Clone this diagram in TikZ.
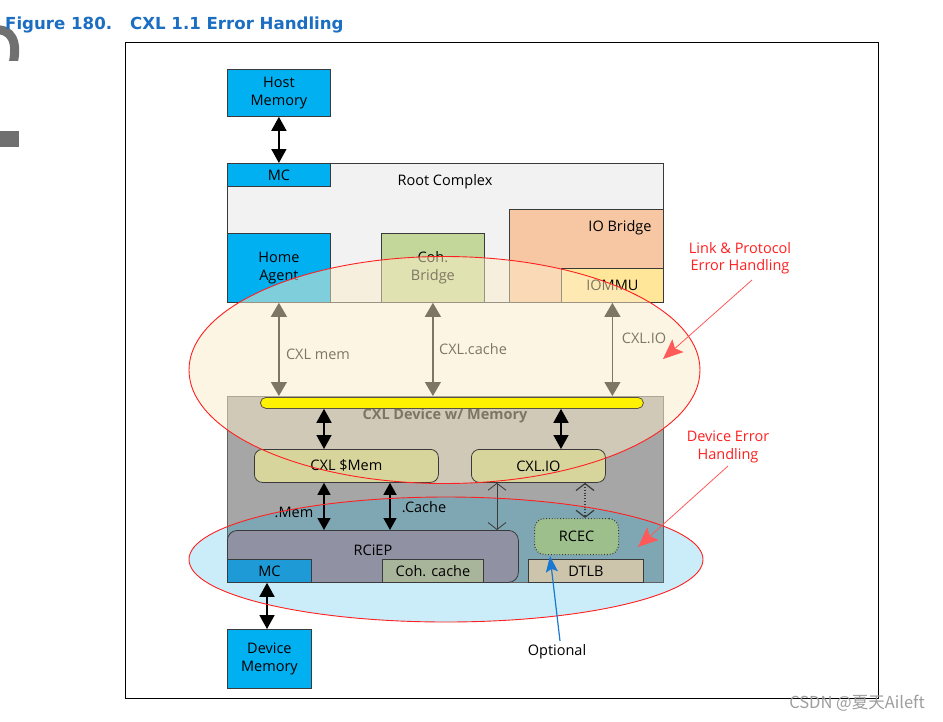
\documentclass[tikz,border=0pt]{standalone}
\usepackage{fontspec}
\setmainfont{Open Sans}
\newfontfamily\titlefont{DejaVu Sans}
\newfontfamily\cjkfont{Noto Sans CJK SC}
\usetikzlibrary{arrows.meta,calc}
\definecolor{cblue}{HTML}{00B0F0}
\definecolor{rcfill}{HTML}{F2F2F2}
\definecolor{cohfill}{HTML}{C4D79B}
\definecolor{iobfill}{HTML}{F7C6A3}
\definecolor{iommufill}{HTML}{FFE699}
\definecolor{devgray}{HTML}{A6A6A6}
\definecolor{devblue}{HTML}{7FA7B3}
\definecolor{blueell}{HTML}{CBEDF9}
\definecolor{creamell}{HTML}{FDEDC9}
\definecolor{smemfill}{HTML}{D7D59B}
\definecolor{rciepfill}{HTML}{9091A3}
\definecolor{mcdfill}{HTML}{1E9AD6}
\definecolor{ccfill}{HTML}{A9B59A}
\definecolor{dtlbfill}{HTML}{CDC5AB}
\definecolor{rcecfill}{HTML}{9DBF8C}
\definecolor{bordc}{HTML}{3A3A3A}
\definecolor{redc}{HTML}{FF2020}
\definecolor{redarrc}{HTML}{FF5A5A}
\definecolor{bluearrc}{HTML}{1A78D0}
\definecolor{titleblue}{HTML}{1B6EC2}
\definecolor{artgray}{HTML}{707070}
\newcommand\lblfont{\fontsize{14.5}{17.5}\selectfont}
\tikzset{
  box/.style={draw=bordc, line width=0.8pt, anchor=north west, inner sep=0pt, align=center, font=\lblfont},
  lbl/.style={inner sep=0pt, align=center, font=\lblfont},
  thickarrow/.style={line width=1.6pt, {Triangle[length=14pt,width=15pt]}-{Triangle[length=14pt,width=15pt]}},
  grayarrow/.style={line width=1.2pt, {Triangle[length=14pt,width=16pt]}-{Triangle[length=14pt,width=16pt]}},
  medarrow/.style={line width=1.3pt, {Triangle[length=12pt,width=13pt]}-{Triangle[length=12pt,width=13pt]}},
  openarrow/.style={line width=0.8pt, draw=bordc, {Straight Barb[length=7pt,width=18pt]}-{Straight Barb[length=7pt,width=18pt]}},
  redarrow/.style={line width=0.8pt, draw=redarrc, -{Stealth[length=20pt,width=17pt,inset=4pt]}},
  bluearrow/.style={line width=1.2pt, draw=bluearrc, -{Stealth[length=16pt,width=12pt,inset=3pt]}},
  redtext/.style={lbl, text=redc}
}
\begin{document}
\begin{tikzpicture}[x=1pt,y=-1pt]
\useasboundingbox (0,0) rectangle (943,721);
\fill[white] (0,0) rectangle (943,721);
% left artifacts
\begin{scope}
\clip (0,0) rectangle (30,60);
\draw[artgray, line width=9pt] (-6,30) .. controls (12,28) and (18,42) .. (13,64);
\end{scope}
\fill[artgray] (0,131) rectangle (19,147);
% title
\node[anchor=base west, inner sep=0pt, text=titleblue, font=\titlefont\bfseries\fontsize{16.6}{20}\selectfont] (title) at (5,29) {Figure 180.\hspace{18pt}CXL 1.1 Error Handling};
% frame
\node[draw=black, line width=1pt, anchor=north west, minimum width=753pt, minimum height=656pt, inner sep=0pt] (frame) at (125,42) {};
% blue ellipse fill and device box
\fill[blueell] (446,559.5) ellipse [x radius=257, y radius=62.5];
\node[box, fill=devgray, draw=none, minimum width=436pt, minimum height=186pt] (dev) at (227,396) {};
\begin{scope}
\clip (227,396) rectangle (663,582);
\fill[devblue] (446,559.5) ellipse [x radius=257, y radius=62.5];
\end{scope}
\node[box, draw=bordc!80, minimum width=436pt, minimum height=186pt] (devb) at (227,396) {};
\node[lbl, font=\lblfont\bfseries] (devtext) at (445,416) {CXL Device w/ Memory};
% host side
\node[box, fill=cblue, minimum width=103pt, minimum height=47pt] (hostmem) at (227,69) {Host\\Memory};
\node[box, fill=rcfill, minimum width=436pt, minimum height=139pt] (rc) at (227,163) {};
\node[lbl] (rctext) at (445,182) {Root Complex};
\node[box, fill=cblue, minimum width=103pt, minimum height=23pt] (mc1) at (227,163) {MC};
\node[box, fill=cblue, minimum width=103pt, minimum height=69pt] (ha) at (227,233) {Home\\Agent};
\node[box, fill=cohfill, minimum width=103pt, minimum height=69pt] (cb) at (381,233) {Coh.\\Bridge};
\node[box, fill=iobfill, minimum width=154pt, minimum height=93pt] (iob) at (509,209) {};
\node[lbl] (iobtext) at (620,228) {IO Bridge};
\node[box, fill=iommufill, minimum width=102pt, minimum height=34pt] (iommu) at (561,268) {IOMMU};
\draw[thickarrow] (hostmem.south) -- (mc1.north);
% protocol arrows
\draw[grayarrow] (ha.south) -- (ha.south |- dev.north);
\draw[grayarrow] (cb.south) -- (cb.south |- dev.north);
\draw[grayarrow] (iommu.south) -- (iommu.south |- dev.north);
\node[lbl] (memlbl) at (318,354) {CXL mem};
\node[lbl] (cachelbl) at (473,349) {CXL.cache};
\node[lbl] (iolbl) at (644,338) {CXL.IO};
% cream ellipse fill
\fill[creamell, fill opacity=0.5] (444.5,370) ellipse [x radius=255.5, y radius=113.5];
% device internals
\node[box, fill=yellow, draw=black!60!yellow!60!black, rounded corners=5.5pt, minimum width=383pt, minimum height=11pt] (bar) at (260,397) {};
\node[box, fill=smemfill, rounded corners=8pt, minimum width=184pt, minimum height=33pt] (smem) at (254,449) {CXL \$Mem};
\node[box, fill=smemfill, rounded corners=8pt, minimum width=134pt, minimum height=33pt] (cio) at (471,449) {CXL.IO};
\node[box, fill=rciepfill, rounded corners=10pt, minimum width=291pt, minimum height=52pt] (rciep) at (227,530) {};
\node[lbl] (rcieptext) at (373,550) {RCiEP};
\node[box, fill=mcdfill, minimum width=84pt, minimum height=23pt] (mcd) at (227,559) {MC};
\node[box, fill=ccfill, minimum width=101pt, minimum height=23pt] (cc) at (382,559) {Coh. cache};
\node[box, fill=dtlbfill, minimum width=115pt, minimum height=23pt] (dtlb) at (528,559) {DTLB};
\node[box, fill=rcecfill, dotted, line width=1.2pt, rounded corners=10pt, minimum width=84pt, minimum height=36pt] (rcec) at (534,518) {RCEC};
\node[box, fill=cblue, minimum width=84pt, minimum height=59pt] (devmem) at (227,629) {Device\\Memory};
\coordinate (xa) at (324,0);
\coordinate (xb) at (561,0);
\coordinate (xc) at (390,0);
\coordinate (xd) at (497,0);
\coordinate (xe) at (585,0);
\coordinate (xf) at (267,0);
\draw[thickarrow] (xa |- bar.south) -- (xa |- smem.north);
\draw[thickarrow] (xb |- bar.south) -- (xb |- cio.north);
\draw[medarrow] (xa |- smem.south) -- (xa |- rciep.north);
\draw[medarrow] (xc |- smem.south) -- (xc |- rciep.north);
\draw[openarrow] (xd |- cio.south) -- (xd |- rciep.north);
\draw[openarrow, dotted, line width=1.2pt] (xe |- cio.south) -- (xe |- rcec.north);
\draw[thickarrow] (xf |- mcd.south) -- (xf |- devmem.north);
\node[lbl] (mlbl) at (294,512) {.Mem};
\node[lbl] (clbl) at (424,507) {.Cache};
% red outlines
\draw[redc, line width=0.9pt] (444.5,370) ellipse [x radius=255.5, y radius=113.5];
\draw[redc, line width=0.9pt] (446,559.5) ellipse [x radius=257, y radius=62.5];
% annotations
\node[redtext] (link) at (740,258) {Link \& Protocol\\Error Handling};
\node[redtext] (deverr) at (728,447) {Device Error\\Handling};
\coordinate (la) at (752,280);
\coordinate (lb) at (663,359);
\coordinate (da) at (728,466);
\coordinate (db) at (638,547);
\draw[redarrow] (la) -- (lb);
\draw[redarrow] (da) -- (db);
\node[lbl] (optional) at (557,652) {Optional};
\coordinate (oa) at (560,641);
\coordinate (ob) at (550,556);
\draw[bluearrow] (oa) -- (ob);
% watermark
\node[inner sep=0pt, text=black!38, font=\cjkfont\fontsize{16.5}{16.5}\selectfont] (wm) at (857,703) {CSDN @夏天Aileft};
\end{tikzpicture}
\end{document}
